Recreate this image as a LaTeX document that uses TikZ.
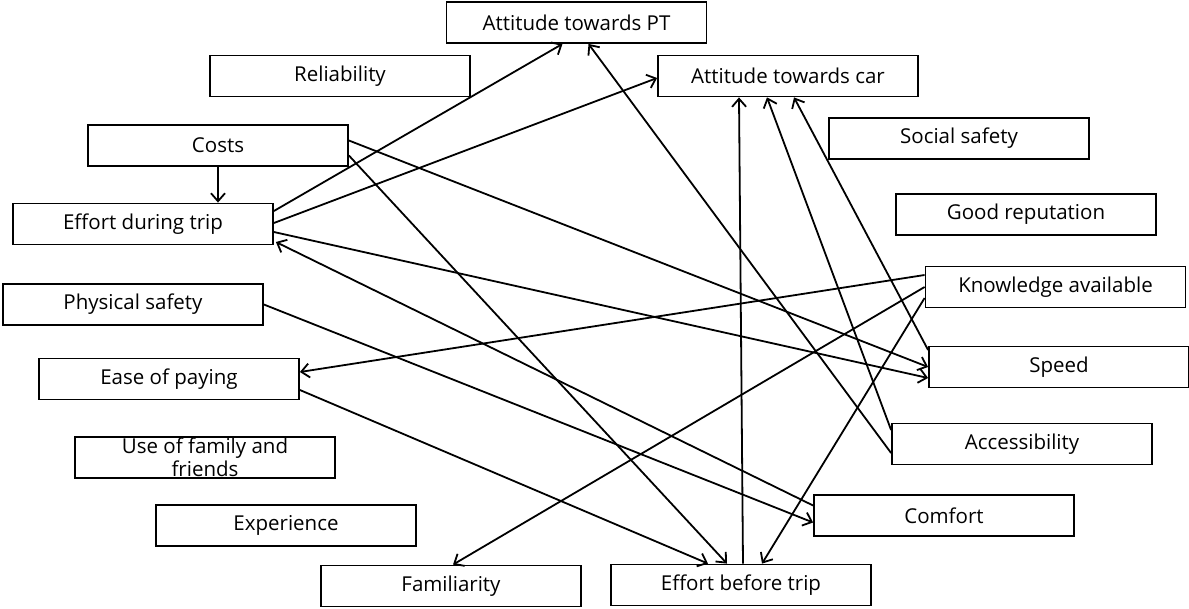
\documentclass[tikz,border=0pt]{standalone}
\usepackage{fontspec}
\setmainfont{Open Sans}
\usetikzlibrary{arrows.meta}
\begin{document}
\begin{tikzpicture}[x=1pt,y=-1pt,
  box/.style={draw,line width=1.8pt,minimum width=260pt,minimum height=41pt,inner sep=0pt,
    font=\fontsize{20.5}{23}\selectfont,align=center},
  conn/.style={line width=1.8pt,-{Straight Barb[length=8pt,width=14pt]}}]
\useasboundingbox (0,0) rectangle (1189,608);
\node[box] (pt) at (576.5,22.5) {Attitude towards PT};
\node[box] (rel) at (340,76) {Reliability};
\node[box] (car) at (788,76) {Attitude towards car};
\node[box] (costs) at (218,145.5) {Costs};
\node[box] (social) at (959,138.5) {Social safety};
\node[box] (effdur) at (143,224) {Effort during trip};
\node[box] (rep) at (1026,214.5) {Good reputation};
\node[box] (know) at (1055.5,287) {Knowledge available};
\node[box] (phys) at (133,304.5) {Physical safety};
\node[box] (speed) at (1059,367) {Speed};
\node[box] (ease) at (169,379) {Ease of paying};
\node[box] (acc) at (1022,444) {Accessibility};
\node[box,font=\fontsize{20.5}{23}\selectfont] (fam2) at (205,457.5) {Use of family and\\friends};
\node[box] (comfort) at (944,515.5) {Comfort};
\node[box] (exp) at (286,525.5) {Experience};
\node[box] (fam) at (451,586) {Familiarity};
\node[box] (effbefore) at (741,585) {Effort before trip};

\draw[conn] (costs.south) -- (costs.south |- effdur.north);
\draw[conn] ([yshift=13pt]effdur.east) -- ([xshift=-14pt]pt.south);
\draw[conn] ([yshift=1pt]effdur.east) -- ([yshift=-2pt]car.west);
\draw[conn] ([yshift=-8pt]effdur.east) -- ([yshift=-11pt]speed.west);
\draw[conn] ([yshift=5pt]costs.east) -- (speed.west);
\draw[conn] ([yshift=-10pt]costs.east) -- ([xshift=-14pt]effbefore.north);
\draw[conn] ([yshift=10pt]comfort.west) -- ([xshift=2pt,yshift=-18pt]effdur.east);
\draw[conn] (phys.east) -- ([yshift=-7pt]comfort.west);
\draw[conn] ([yshift=-11pt]ease.east) -- ([xshift=-33pt]effbefore.north);
\draw[conn] ([yshift=12pt]know.west) -- ([yshift=7pt]ease.east);
\draw[conn] (know.west) -- ([xshift=2pt]fam.north);
\draw[conn] ([yshift=-11pt]know.west) -- ([xshift=21pt]effbefore.north);
\draw[conn] ([yshift=-9pt]acc.west) -- ([xshift=12pt]pt.south);
\draw[conn] ([xshift=2pt]effbefore.north) -- ([xshift=-49pt]car.south);
\draw[conn] ([yshift=14pt]acc.west) -- ([xshift=-21pt]car.south);
\draw[conn] ([yshift=17pt]speed.west) -- ([xshift=6pt]car.south);
\end{tikzpicture}
\end{document}
